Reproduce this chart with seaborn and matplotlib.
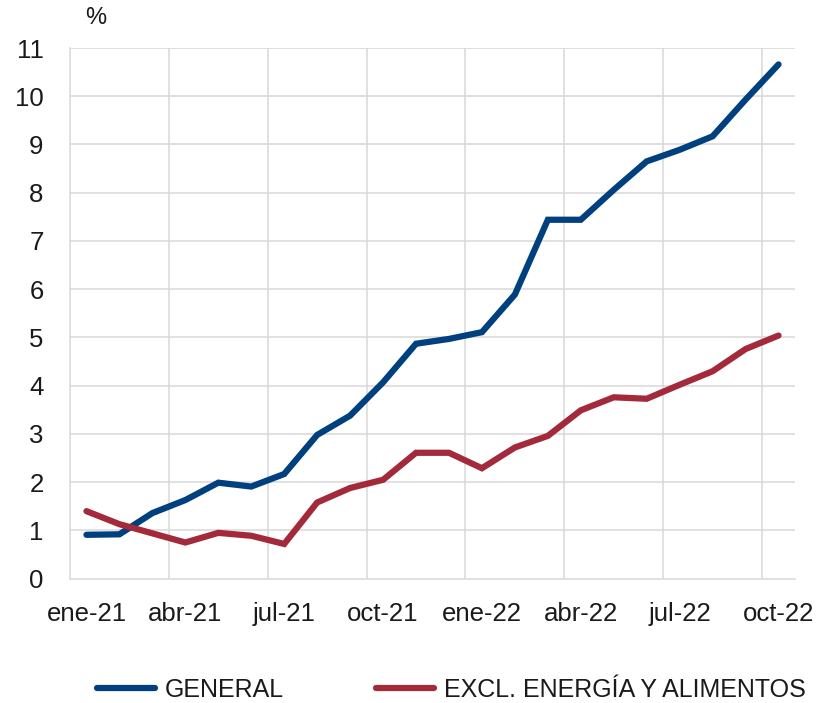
import matplotlib
matplotlib.use("Agg")
import matplotlib.pyplot as plt
import seaborn as sns
import pandas as pd
from matplotlib.lines import Line2D

months = ["ene-21", "feb-21", "mar-21", "abr-21", "may-21", "jun-21", "jul-21", "ago-21",
          "sep-21", "oct-21", "nov-21", "dic-21", "ene-22", "feb-22", "mar-22", "abr-22",
          "may-22", "jun-22", "jul-22", "ago-22", "sep-22", "oct-22"]
general = [0.91, 0.92, 1.36, 1.63, 1.99, 1.91, 2.17, 2.98, 3.38, 4.07, 4.87, 4.97,
           5.11, 5.89, 7.44, 7.44, 8.06, 8.65, 8.89, 9.17, 9.93, 10.66]
excl = [1.40, 1.13, 0.94, 0.75, 0.95, 0.89, 0.72, 1.58, 1.88, 2.05, 2.61, 2.61,
        2.29, 2.72, 2.96, 3.49, 3.76, 3.73, 4.02, 4.30, 4.76, 5.04]
series_names = ["GENERAL", "EXCL. ENERGÍA Y ALIMENTOS"]
colors = ["#00407F", "#A32A3B"]
yticks = list(range(0, 12))

df = pd.DataFrame({
    "idx": list(range(len(months))) * 2,
    "value": general + excl,
    "serie": [series_names[0]] * len(months) + [series_names[1]] * len(months),
})

sns.set_theme(style="white")
plt.rcParams["font.family"] = ["Liberation Sans", "DejaVu Sans"]

fig = plt.figure(figsize=(8.2, 7.03), dpi=100)
ax = fig.add_axes([70 / 820, 1 - 578.7 / 703, 725 / 820, (578.7 - 48) / 703])

sns.lineplot(data=df, x="idx", y="value", hue="serie", palette=colors,
             hue_order=series_names, linewidth=4.5, ax=ax, legend=False,
             solid_capstyle="round", solid_joinstyle="miter")

n = len(months)
ax.set_xlim(-0.5, n - 0.5)
ax.set_ylim(0, 11)
ax.set_yticks(yticks)
ax.set_yticklabels([str(v) for v in yticks])
ax.set_xticks(list(range(0, n, 3)))
ax.set_xticklabels([months[i] for i in range(0, n, 3)])
ax.set_xlabel("")
ax.set_ylabel("")

grid_c = "#D9D9D9"
for v in yticks[1:]:
    ax.axhline(v, color=grid_c, lw=1.1, zorder=0)
for b in range(3, n, 3):
    ax.axvline(b - 0.5, color=grid_c, lw=1.1, zorder=0)

for s in ["top", "right"]:
    ax.spines[s].set_visible(False)
for s in ["left", "bottom"]:
    ax.spines[s].set_color(grid_c)
    ax.spines[s].set_linewidth(1.1)

ax.tick_params(axis="y", length=0, pad=19, labelsize=18.5, labelcolor="#1a1a1a")
ax.tick_params(axis="x", length=0, pad=17, labelsize=18.5, labelcolor="#1a1a1a")

fig.text(96 / 820, 1 - 18 / 703, "%", ha="center", va="center", fontsize=17, color="#1a1a1a")

handles = [Line2D([0], [0], color=c, lw=4.5, solid_capstyle="round") for c in colors]
fig.legend(handles, series_names, loc="center", bbox_to_anchor=(451.5 / 820, 1 - 690 / 703),
           ncol=2, frameon=False, fontsize=18, handlelength=2.3, handletextpad=0.4,
           columnspacing=3.7, labelcolor="#1a1a1a")

fig.savefig("out.png", dpi=100)
